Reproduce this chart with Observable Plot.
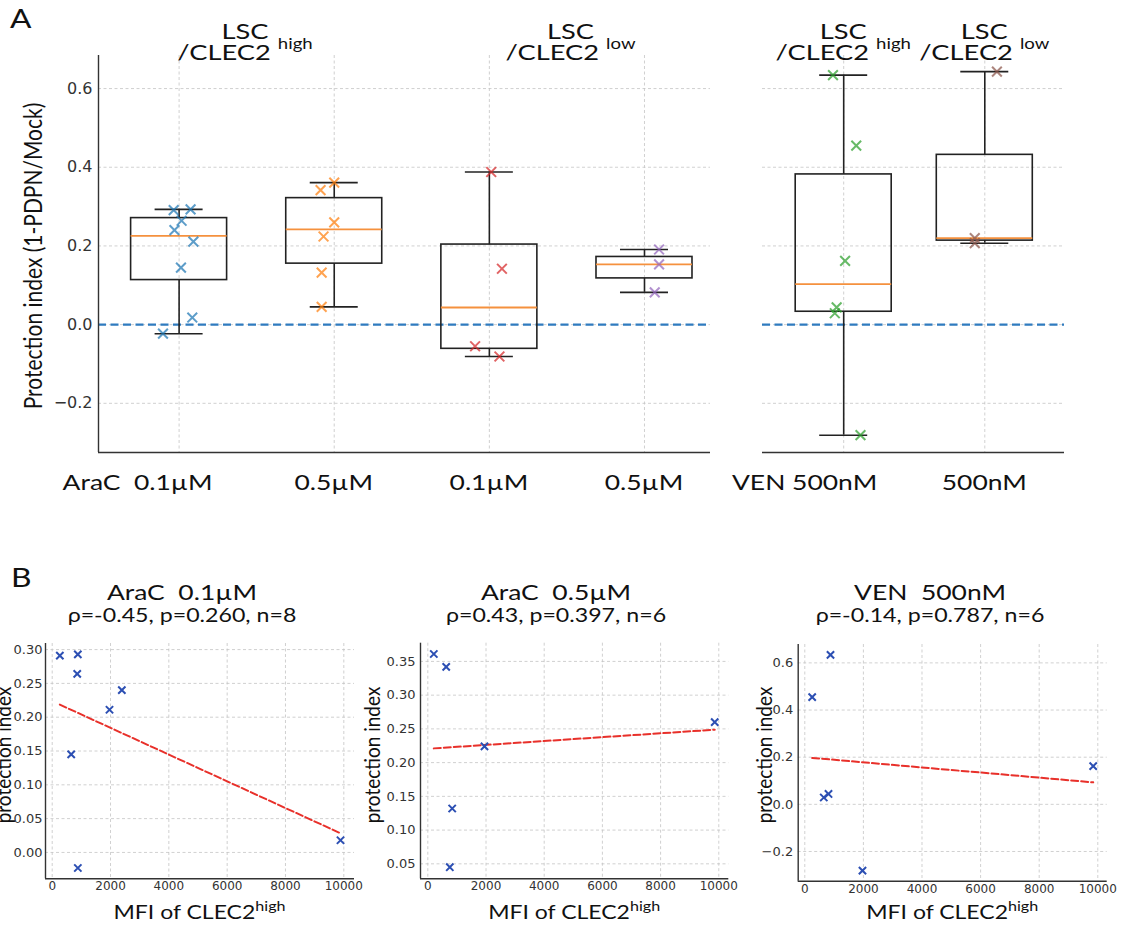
<!DOCTYPE html>
<html><head><meta charset="utf-8">
<script src="https://cdn.jsdelivr.net/npm/d3@7"></script>
<script src="https://cdn.jsdelivr.net/npm/@observablehq/plot@0.6"></script>
<style>
body{margin:0;background:#fff;overflow:hidden}
#fig{position:relative;width:1124px;height:927px;overflow:hidden;background:#fff}
</style></head><body><div id="fig"></div>
<script>
// ================= DATA =================
// Panel A: protection index per box (LSC / CLEC2 high|low)
const boxLabels   = ["0.1µM", "0.5µM", "0.1µM", "0.5µM", "500nM", "500nM"];
const boxPrefix   = ["AraC", "", "", "", "VEN", ""];
const subsetNames = ["high", "low", "high", "low"];
const araC01High = [0.291, 0.293, 0.264, 0.240, 0.211, 0.145, 0.018, -0.023];
const araC05High = [0.361, 0.342, 0.224, 0.132, 0.045, 0.260];
const araC01Low  = [0.388, 0.142, -0.055, -0.081];
const araC05Low  = [0.191, 0.153, 0.082];
const ven500High = [0.634, 0.455, 0.044, 0.029, 0.162, -0.281];
const ven500Low  = [0.643, 0.220, 0.207];
// horizontal jitter of each point (fraction of category step)
const jitAraC01High = [-0.035, 0.074, 0.016, -0.030, 0.092, 0.012, 0.085, -0.104];
const jitAraC05High = [0.0, -0.088, -0.069, -0.081, -0.081, 0.0];
const jitAraC01Low  = [0.012, 0.081, -0.092, 0.065];
const jitAraC05Low  = [0.094, 0.094, 0.066];
const jitVen500High = [-0.076, 0.089, -0.050, -0.063, 0.010, 0.119];
const jitVen500Low  = [0.086, -0.071, -0.071];
const yTicksA = [-0.2, 0, 0.2, 0.4, 0.6];

// Panel B: MFI of CLEC2 high vs protection index (same order as the high arrays)
const mfiAraC01 = [262, 879, 858, 2388, 1965, 651, 9887, 879];
const mfiAraC05 = [206, 632, 1948, 838, 756, 9860];
const mfiVen500 = [877, 252, 809, 648, 9843, 1969];
const scatterTitles = ["AraC\u00a0\u00a00.1µM", "AraC\u00a0\u00a00.5µM", "VEN\u00a0\u00a0500nM"];
const scatterStats  = ["ρ=-0.45, p=0.260, n=8", "ρ=0.43, p=0.397, n=6", "ρ=-0.14, p=0.787, n=6"];
const xTicksB  = [0, 2000, 4000, 6000, 8000, 10000];
const yTicksB1 = [0, 0.05, 0.10, 0.15, 0.20, 0.25, 0.30];
const yTicksB2 = [0.05, 0.10, 0.15, 0.20, 0.25, 0.30, 0.35];
const yTicksB3 = [-0.2, 0, 0.2, 0.4, 0.6];

// ================= SETUP =================
const W = 1124, H = 927;
const fig = document.getElementById("fig");
const boxSeries = [araC01High, araC05High, araC01Low, araC05Low, ven500High, ven500Low];
const boxJitter = [jitAraC01High, jitAraC05High, jitAraC01Low, jitAraC05Low, jitVen500High, jitVen500Low];
const boxColors = ["#1f77b4", "#ff7f0e", "#d62728", "#9467bd", "#2ca02c", "#8c564b"];
const minus = s => s.replace("-", "−");
const fmt1 = d => minus(d.toFixed(1));
const fmt2 = d => minus(d.toFixed(2));
const grid = {stroke: "#c4c4c4", strokeOpacity: 1, strokeWidth: 0.8, strokeDasharray: "3,2.5"};

function place(node, left, top) {
  node.style.position = "absolute";
  node.style.left = left + "px";
  node.style.top = top + "px";
  fig.appendChild(node);
}
function stats(vals) {
  const s = d3.sort(vals);
  const q1 = d3.quantileSorted(s, 0.25), med = d3.quantileSorted(s, 0.5), q3 = d3.quantileSorted(s, 0.75);
  const iqr = q3 - q1;
  return {q1, med, q3,
    lo: d3.min(s.filter(v => v >= q1 - 1.5 * iqr)),
    hi: d3.max(s.filter(v => v <= q3 + 1.5 * iqr))};
}

// ================= PANEL A =================
const heightA = 470, marginTopA = 55, marginBottomA = 18, yDomainA = [-0.325, 0.684];
const panelsA = [
  {left: 0, width: 720, marginLeft: 98, marginRight: 10, xDomain: [0.4804, 4.4255], leftSpine: true, groups: [0, 1, 2, 3]},
  {left: 752, width: 322, marginLeft: 10, marginRight: 10, xDomain: [0.4245, 2.565], leftSpine: false, groups: [4, 5]}
];
const catX = []; // absolute pixel x of each box
for (const p of panelsA) {
  const pxPerUnit = (p.width - p.marginLeft - p.marginRight) / (p.xDomain[1] - p.xDomain[0]);
  const hw = 48 / pxPerUnit;
  const st = p.groups.map((g, i) => ({pos: i + 1, ...stats(boxSeries[g])}));
  const pts = p.groups.flatMap((g, i) => boxSeries[g].map((v, j) => ({x: i + 1 + boxJitter[g][j], v, c: boxColors[g]})));
  const marks = [
    Plot.gridY(yTicksA, grid),
    Plot.gridX(st.map(d => d.pos), grid),
    Plot.ruleY([0], {stroke: "#2f7bbf", strokeWidth: 2.2, strokeDasharray: "8,4.5"}),
    Plot.ruleY([yDomainA[0]], {stroke: "#333", strokeWidth: 1.4}),
    Plot.ruleX(st, {x: "pos", y1: "q3", y2: "hi", stroke: "#222", strokeWidth: 1.6}),
    Plot.ruleX(st, {x: "pos", y1: "q1", y2: "lo", stroke: "#222", strokeWidth: 1.6}),
    Plot.ruleY(st, {y: "hi", x1: d => d.pos - hw / 2, x2: d => d.pos + hw / 2, stroke: "#222", strokeWidth: 1.6}),
    Plot.ruleY(st, {y: "lo", x1: d => d.pos - hw / 2, x2: d => d.pos + hw / 2, stroke: "#222", strokeWidth: 1.6}),
    Plot.rect(st, {x1: d => d.pos - hw, x2: d => d.pos + hw, y1: "q1", y2: "q3", fill: "none", stroke: "#222", strokeWidth: 1.6}),
    Plot.ruleY(st, {y: "med", x1: d => d.pos - hw, x2: d => d.pos + hw, stroke: "#f5913e", strokeWidth: 1.8}),
    Plot.dot(pts, {x: "x", y: "v", symbol: "times", r: 4.5, stroke: "c", strokeWidth: 2, strokeOpacity: 0.72})
  ];
  if (p.leftSpine) {
    marks.push(Plot.ruleX([p.xDomain[0]], {stroke: "#333", strokeWidth: 1.4}));
    marks.push(Plot.axisY(yTicksA, {tickSize: 0, tickPadding: 6, fontSize: 16, tickFormat: fmt1, label: null}));
  }
  const plot = Plot.plot({
    width: p.width, height: heightA,
    marginLeft: p.marginLeft, marginRight: p.marginRight, marginTop: marginTopA, marginBottom: marginBottomA,
    x: {domain: p.xDomain, axis: null},
    y: {domain: yDomainA, axis: null},
    color: {type: "identity"},
    style: {fontFamily: "DejaVu Sans", color: "#333", background: "transparent", overflow: "visible"},
    marks
  });
  place(plot, p.left, 0);
  const xs = plot.scale("x");
  p.groups.forEach((g, i) => { catX[g] = p.left + xs.apply(i + 1); });
}

// ================= PANEL B =================
const scatterPanels = [
  {left: 0,   width: 365, height: 300, marginLeft: 45,   marginRight: 11,   marginTop: 43,   marginBottom: 21.7, xDomain: [-230, 10367], yDomain: [-0.039, 0.309], yTicks: yTicksB1, fmt: fmt2, mfi: mfiAraC01, vals: araC01High, pad: 3},
  {left: 375, width: 365, height: 300, marginLeft: 45,   marginRight: 11.7, marginTop: 42.7, marginBottom: 21.7, xDomain: [-251, 10344], yDomain: [0.0278, 0.377], yTicks: yTicksB2, fmt: fmt2, mfi: mfiAraC05, vals: araC05High, pad: 5},
  {left: 752, width: 365, height: 300, marginLeft: 45.7, marginRight: 10.3, marginTop: 44,   marginBottom: 19.3, xDomain: [-225, 10321], yDomain: [-0.326, 0.678], yTicks: yTicksB3, fmt: fmt1, mfi: mfiVen500, vals: ven500High, pad: 5}
];
const frameCenters = [];
for (const p of scatterPanels) {
  const data = p.mfi.map((m, i) => ({m, v: p.vals[i]}));
  const plot = Plot.plot({
    width: p.width, height: p.height,
    marginLeft: p.marginLeft, marginRight: p.marginRight, marginTop: p.marginTop, marginBottom: p.marginBottom,
    x: {domain: p.xDomain, axis: null},
    y: {domain: p.yDomain, axis: null},
    style: {fontFamily: "DejaVu Sans", color: "#333", background: "transparent", overflow: "visible"},
    marks: [
      Plot.gridY(p.yTicks, grid),
      Plot.gridX(xTicksB, grid),
      Plot.ruleX([p.xDomain[0]], {stroke: "#333", strokeWidth: 1.4}),
      Plot.ruleY([p.yDomain[0]], {stroke: "#333", strokeWidth: 1.4}),
      Plot.axisY(p.yTicks, {tickSize: 0, tickPadding: p.pad, fontSize: 13, tickFormat: p.fmt, label: null}),
      Plot.axisX(xTicksB, {tickSize: 0, tickPadding: 3, fontSize: 12, tickFormat: d => String(d), label: null}),
      Plot.linearRegressionY(data, {x: "m", y: "v", ci: 0, stroke: "#e8302a", strokeWidth: 2, strokeDasharray: "7,3"}),
      Plot.dot(data, {x: "m", y: "v", symbol: "times", r: 3.4, stroke: "#2c4fb3", strokeWidth: 2})
    ]
  });
  place(plot, p.left, 600);
  frameCenters.push(p.left + p.marginLeft + (p.width - p.marginLeft - p.marginRight) / 2);
}

// ================= TEXT OVERLAY =================
const ov = d3.select(fig).append("svg").attr("width", W).attr("height", H)
  .style("position", "absolute").style("left", "0px").style("top", "0px").style("pointer-events", "none");
function txt(x, y, parts, {size = 21, anchor = "middle", sx = 1.22, family = "Lato", rotate = 0, fill = "#111"} = {}) {
  const t = ov.append("text")
    .attr("transform", rotate ? `translate(${x},${y}) rotate(${rotate}) scale(1,${sx})` : `translate(${x},${y}) scale(${sx},1)`)
    .attr("text-anchor", anchor).attr("font-family", family).attr("font-size", size).attr("fill", fill);
  if (rotate) t.attr("dy", "0.35em");
  for (const [s, o = {}] of parts) {
    const ts = t.append("tspan").text(s);
    if (o.size) ts.attr("font-size", o.size);
    if (o.dy != null) ts.attr("dy", o.dy);
    if (o.x != null) ts.attr("x", o.x);
  }
  return t;
}
// panel letters
txt(10, 28, [["A"]], {size: 26, anchor: "start"});
txt(11, 587, [["B"]], {size: 26, anchor: "start"});
// A: y label
txt(34, 256, [["Protection index (1-PDPN/Mock)"]], {size: 21, rotate: -90, sx: 1.15});
// A: group headers (two lines in one text)
const headerX = [245, 570.5, catX[4], catX[5]];
subsetNames.forEach((s, i) => {
  txt(headerX[i], 39, [["LSC"], ["/CLEC2\u00a0", {x: 0, dy: 21}], [s, {size: 15, dy: -11}]], {size: 22, sx: 1.24});
});
// A: category labels
boxLabels.forEach((l, g) => {
  if (boxPrefix[g]) txt(catX[g] + 34, 490, [[boxPrefix[g] + (g === 0 ? "\u00a0\u00a0" : "\u00a0") + l]], {size: 21, anchor: "end", sx: 1.26});
  else txt(catX[g], 490, [[l]], {size: 21, sx: 1.26});
});
// B: titles, stats, axis labels
const titleX = [182, 556, 930];
scatterTitles.forEach((t, i) => {
  txt(titleX[i], 600, [[t]], {size: 21, sx: 1.26});
  txt(titleX[i], 622, [[scatterStats[i]]], {size: 19, sx: 1.22});
  txt(frameCenters[i], 919, [["MFI of CLEC2"], ["high", {size: 14, dy: -8}]], {size: 20, sx: 1.15});
});
const ylabX = [4, 372.5, 765];
ylabX.forEach(x => txt(x, 755, [["protection index"]], {size: 19, rotate: -90, sx: 1.1}));
</script></body></html>
